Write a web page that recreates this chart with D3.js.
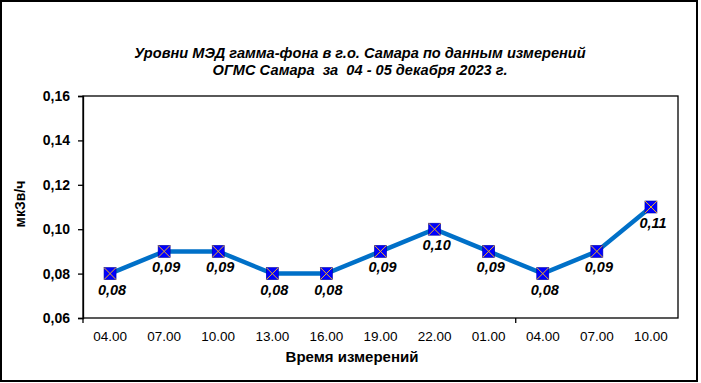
<!DOCTYPE html>
<html>
<head>
<meta charset="utf-8">
<script src="https://cdn.jsdelivr.net/npm/d3@7"></script>
<style>
  body { margin: 0; background: #fff; }
  text { font-family: "Liberation Sans", Arial, sans-serif; }
</style>
</head>
<body>
<svg id="chart"></svg>
<script>
const width = 701;
const height = 383;

// Data
const times = ["04.00", "07.00", "10.00", "13.00", "16.00", "19.00", "22.00", "01.00", "04.00", "07.00", "10.00"];
const values = [0.08, 0.09, 0.09, 0.08, 0.08, 0.09, 0.10, 0.09, 0.08, 0.09, 0.11];
const yTicks = [0.06, 0.08, 0.10, 0.12, 0.14, 0.16];
const titleLines = ["Уровни МЭД гамма-фона в г.о. Самара по данным измерений", "ОГМС Самара  за  04 - 05 декабря 2023 г."];

const margin = { left: 83, right: 23, top: 96, bottom: 65 };
const plotW = width - margin.left - margin.right;
const plotH = height - margin.top - margin.bottom;

const svg = d3.select("#chart")
    .attr("width", width)
    .attr("height", height);

// outer chart border
svg.append("rect")
    .attr("x", 1).attr("y", 1)
    .attr("width", 696).attr("height", 380)
    .attr("fill", "white")
    .attr("stroke", "black")
    .attr("stroke-width", 2);

// title
svg.append("text")
    .attr("x", 360)
    .attr("y", 58)
    .attr("text-anchor", "middle")
    .style("font-size", "14.6px")
    .style("font-weight", "bold")
    .style("font-style", "italic")
    .style("white-space", "pre")
    .selectAll("tspan")
    .data(titleLines)
    .join("tspan")
    .attr("x", 360)
    .attr("dy", (d, i) => i === 0 ? 0 : 17)
    .text(d => d);

const g = svg.append("g").attr("transform", `translate(${margin.left},${margin.top})`);

const x = d3.scaleBand()
    .domain(d3.range(times.length))
    .range([0, plotW]);

const y = d3.scaleLinear()
    .domain([0.06, 0.16])
    .range([plotH, 0]);

// plot area frame
g.append("rect")
    .attr("width", plotW)
    .attr("height", plotH)
    .attr("fill", "white")
    .attr("stroke", "black")
    .attr("stroke-width", 1.3);

// y axis
const yAxis = g.append("g")
    .call(d3.axisLeft(y).tickValues(yTicks).tickSize(5).tickPadding(8)
        .tickFormat(d => d3.format(".2f")(d).replace(".", ",")));
yAxis.select(".domain").attr("stroke", "black").attr("stroke-width", 1.3);
yAxis.selectAll(".tick line").attr("stroke", "black").attr("stroke-width", 1.3);
yAxis.selectAll("text")
    .attr("fill", "black")
    .style("font-size", "14px")
    .style("font-weight", "bold");

// x axis: labels at category centres, tick marks every 8 categories
const xAxis = g.append("g")
    .attr("transform", `translate(0,${plotH})`)
    .call(d3.axisBottom(x).tickSize(0).tickPadding(13).tickFormat(i => times[i]));
xAxis.select(".domain").remove();
xAxis.selectAll("text")
    .attr("fill", "black")
    .style("font-size", "13.5px");

g.append("g")
    .selectAll("line")
    .data([0, 8])
    .join("line")
    .attr("x1", i => i * x.step())
    .attr("x2", i => i * x.step())
    .attr("y1", plotH)
    .attr("y2", plotH + 5)
    .attr("stroke", "black")
    .attr("stroke-width", 1.3);

// axis titles
svg.append("text")
    .attr("transform", `translate(25,${margin.top + plotH / 2 - 3}) rotate(-90)`)
    .attr("text-anchor", "middle")
    .style("font-size", "14px")
    .style("font-weight", "bold")
    .text("мкЗв/ч");

svg.append("text")
    .attr("x", 352)
    .attr("y", 362)
    .attr("text-anchor", "middle")
    .style("font-size", "15px")
    .style("font-weight", "bold")
    .text("Время измерений");

// line
const cx = i => x(i) + x.bandwidth() / 2;
const line = d3.line()
    .x((d, i) => cx(i))
    .y(d => y(d));

g.append("path")
    .datum(values)
    .attr("d", line)
    .attr("fill", "none")
    .attr("stroke", "#0070C8")
    .attr("stroke-width", 4.5);

// markers
const s = 6;
const markers = g.selectAll(".marker")
    .data(values)
    .join("g")
    .attr("class", "marker")
    .attr("transform", (d, i) => `translate(${cx(i)},${y(d)})`);

markers.append("rect")
    .attr("x", -s).attr("y", -s)
    .attr("width", 2 * s).attr("height", 2 * s)
    .attr("fill", "#0000FF")
    .attr("stroke", "#0000A0")
    .attr("stroke-width", 0.6);

markers.append("path")
    .attr("d", `M${-s},${-s}L${s},${s}M${s},${-s}L${-s},${s}`)
    .attr("stroke", "#F0B020")
    .attr("stroke-width", 1);

// value labels
g.selectAll(".val")
    .data(values)
    .join("text")
    .attr("class", "val")
    .attr("x", (d, i) => cx(i) + 2)
    .attr("y", d => y(d) + 21)
    .attr("text-anchor", "middle")
    .style("font-size", "14.5px")
    .style("font-weight", "bold")
    .style("font-style", "italic")
    .text(d => d3.format(".2f")(d).replace(".", ","));
</script>
</body>
</html>
